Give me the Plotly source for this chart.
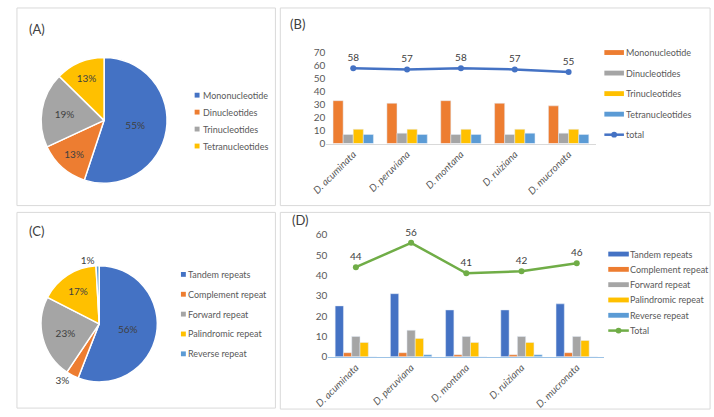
import plotly.graph_objects as go

W, H = 714, 417

# ---------------- data ----------------
species = ["D. acuminata", "D. peruviana", "D. montana", "D. ruiziana", "D. mucronata"]

# Panel B (SSR motif types per species)
ssr_names = ["Mononucleotide", "Dinucleotides", "Trinucleotides", "Tetranucleotides"]
mono = [33, 31, 33, 31, 29]
di = [7, 8, 7, 7, 8]
tri = [11, 11, 11, 11, 11]
tetra = [7, 7, 7, 8, 7]
ssr_total = [58, 57, 58, 57, 55]

# Panel A (pie of SSR types, summed over species)
pie_a_labels = ["Mononucleotide", "Dinucleotides", "Trinucleotides", "Tetranucleotides"]
pie_a_values = [157, 37, 55, 36]

# Panel D (repeat types per species)
rep_names = ["Tandem repeats", "Complement repeat", "Forward repeat", "Palindromic repeat", "Reverse repeat"]
tandem = [25, 31, 23, 23, 26]
complement = [2, 2, 1, 1, 2]
forward = [10, 13, 10, 10, 10]
palindromic = [7, 9, 7, 7, 8]
reverse = [0, 1, 0, 1, 0]
rep_total = [44, 56, 41, 42, 46]

# Panel C (pie of repeat types, summed over species)
pie_c_labels = ["Tandem repeats", "Complement repeat", "Forward repeat", "Palindromic repeat", "Reverse repeat"]
pie_c_values = [128, 8, 53, 38, 2]

# ---------------- style ----------------
BLUE, ORANGE, GRAY, YELLOW, LBLUE, GREEN = "#4472C4", "#ED7D31", "#A5A5A5", "#FFC000", "#5B9BD5", "#70AD47"
TXT = "#595959"
DARK = "#404040"
FONT = "Lato"
LEG_SIZE = 9

def X(px):
    return px / W

def Y(py):
    return 1 - py / H

fig = go.Figure()

# ---- Pie A ----
fig.add_trace(go.Pie(
    labels=pie_a_labels, values=pie_a_values, sort=False, direction="clockwise", rotation=0,
    marker=dict(colors=[BLUE, ORANGE, GRAY, YELLOW], line=dict(color="white", width=1.5)),
    texttemplate="%{percent:.0%}", textposition="inside",
    insidetextorientation="horizontal",
    textfont=dict(size=10, color=DARK, family=FONT),
    domain=dict(x=[X(26), X(156)], y=[Y(182), Y(52)]), showlegend=False,
))

# ---- Pie C ----
fig.add_trace(go.Pie(
    labels=pie_c_labels, values=pie_c_values, sort=False, direction="clockwise", rotation=0,
    marker=dict(colors=[BLUE, ORANGE, GRAY, YELLOW, LBLUE], line=dict(color="white", width=1.5)),
    texttemplate="%{percent:.0%}",
    textposition=["inside", "outside", "inside", "inside", "outside"],
    insidetextorientation="horizontal",
    textfont=dict(size=10, color=DARK, family=FONT),
    domain=dict(x=[X(26), X(146)], y=[Y(387), Y(267)]), showlegend=False,
))

# ---- Bars B ----
for name, vals, col in zip(ssr_names, [mono, di, tri, tetra], [ORANGE, GRAY, YELLOW, LBLUE]):
    fig.add_trace(go.Bar(x=species, y=vals, name=name, marker_color=col, xaxis="x", yaxis="y",
                         showlegend=False))
fig.add_trace(go.Scatter(x=species, y=ssr_total, name="total", mode="lines+markers+text",
                         text=[str(v) for v in ssr_total], textposition="top center",
                         textfont=dict(size=10, color=DARK, family=FONT), cliponaxis=False,
                         line=dict(color=BLUE, width=2.5), marker=dict(size=6, color=BLUE),
                         xaxis="x", yaxis="y", showlegend=False))

# ---- Bars D ----
for name, vals, col in zip(rep_names, [tandem, complement, forward, palindromic, reverse],
                           [BLUE, ORANGE, GRAY, YELLOW, LBLUE]):
    fig.add_trace(go.Bar(x=species, y=vals, name=name, marker_color=col, xaxis="x2", yaxis="y2",
                         showlegend=False))
fig.add_trace(go.Scatter(x=species, y=rep_total, name="Total", mode="lines+markers+text",
                         text=[str(v) for v in rep_total], textposition="top center",
                         textfont=dict(size=10, color=DARK, family=FONT), cliponaxis=False,
                         line=dict(color=GREEN, width=2.5), marker=dict(size=6, color=GREEN),
                         xaxis="x2", yaxis="y2", showlegend=False))

shapes = []
annotations = []

# panel frames
for (x0, y0, x1, y1) in [(2, 1, 266, 205), (271, 1, 710, 205), (2, 212, 266, 414), (271, 212, 710, 415)]:
    shapes.append(dict(type="rect", xref="paper", yref="paper", x0=X(x0), x1=X(x1), y0=Y(y1), y1=Y(y0),
                       line=dict(color="#D9D9D9", width=1), fillcolor="rgba(0,0,0,0)", layer="below"))

# panel labels
for lab, px, py in [("(A)", 12, 23), ("(B)", 279, 18), ("(C)", 12, 231), ("(D)", 281, 220)]:
    annotations.append(dict(text=lab, x=X(px), y=Y(py), xref="paper", yref="paper", xanchor="left",
                            yanchor="middle", showarrow=False, font=dict(size=13, color=DARK, family=FONT)))

# legends
def legend(labels, colors, kinds, sx, sy, dy, sw, sh, tx):
    for i, (lab, col, kind) in enumerate(zip(labels, colors, kinds)):
        yc = sy + i * dy
        if kind == "sq":
            shapes.append(dict(type="rect", xref="paper", yref="paper", x0=X(sx - sh / 2), x1=X(sx + sh / 2),
                               y0=Y(yc + sh / 2), y1=Y(yc - sh / 2), line=dict(width=0), fillcolor=col))
        elif kind == "bar":
            shapes.append(dict(type="rect", xref="paper", yref="paper", x0=X(sx), x1=X(sx + sw),
                               y0=Y(yc + sh / 2), y1=Y(yc - sh / 2), line=dict(width=0), fillcolor=col))
        else:
            shapes.append(dict(type="line", xref="paper", yref="paper", x0=X(sx), x1=X(sx + sw),
                               y0=Y(yc), y1=Y(yc), line=dict(width=2.5, color=col)))
            shapes.append(dict(type="circle", xref="paper", yref="paper", x0=X(sx + sw / 2 - 3),
                               x1=X(sx + sw / 2 + 3), y0=Y(yc + 3), y1=Y(yc - 3), line=dict(width=0),
                               fillcolor=col))
        annotations.append(dict(text=lab, x=X(tx), y=Y(yc), xref="paper", yref="paper", xanchor="left",
                                yanchor="middle", showarrow=False,
                                font=dict(size=LEG_SIZE, color=TXT, family=FONT)))

legend(pie_a_labels, [BLUE, ORANGE, GRAY, YELLOW], ["sq"] * 4, 186, 91, 17.5, 5, 5, 190)
legend(ssr_names + ["total"], [ORANGE, GRAY, YELLOW, LBLUE, BLUE], ["bar"] * 4 + ["line"],
       602, 47, 21.2, 20, 5, 622)
legend(pie_c_labels, [BLUE, ORANGE, GRAY, YELLOW, LBLUE], ["sq"] * 5, 172, 276, 20.5, 5, 5, 175)
legend(rep_names + ["Total"], [BLUE, ORANGE, GRAY, YELLOW, LBLUE, GREEN], ["bar"] * 5 + ["line"],
       606, 255, 15.8, 21, 5, 626)

axis_common = dict(showgrid=False, zeroline=False, ticks="", tickfont=dict(size=10, color=TXT, family=FONT))

fig.update_layout(
    width=W, height=H, autosize=False,
    margin=dict(l=0, r=0, t=0, b=0),
    paper_bgcolor="white", plot_bgcolor="white",
    font=dict(family=FONT, color=TXT),
    barmode="group", bargap=0.25, bargroupgap=0,
    showlegend=False,
    xaxis=dict(domain=[X(318), X(593)], anchor="y", type="category", tickangle=-45, showline=True,
               linecolor="#D9D9D9", linewidth=1, showgrid=False, ticks="",
               tickfont=dict(size=10, color=TXT, family=FONT, style="italic")),
    yaxis=dict(domain=[Y(141), Y(47)], anchor="x", range=[0, 70], dtick=10, showline=False, **axis_common),
    xaxis2=dict(domain=[X(320), X(602)], anchor="y2", type="category", tickangle=-45, showline=True,
                linecolor="#9DC3E6", linewidth=1, showgrid=False, ticks="",
                tickfont=dict(size=10, color=TXT, family=FONT, style="italic")),
    yaxis2=dict(domain=[Y(361), Y(235)], anchor="x2", range=[0, 60], dtick=10, showline=False, **axis_common),
    shapes=shapes, annotations=annotations,
)

post = (
    "document.documentElement.style.margin='0px';"
    "document.body.style.margin='0px';document.body.style.padding='0px';"
    "document.body.style.overflow='hidden';"
    "var gd=document.getElementById('{plot_id}');"
    "gd.style.position='absolute';gd.style.left='0px';gd.style.top='0px';"
)
fig.write_html("out.html", config={"displayModeBar": False}, post_script=post)
